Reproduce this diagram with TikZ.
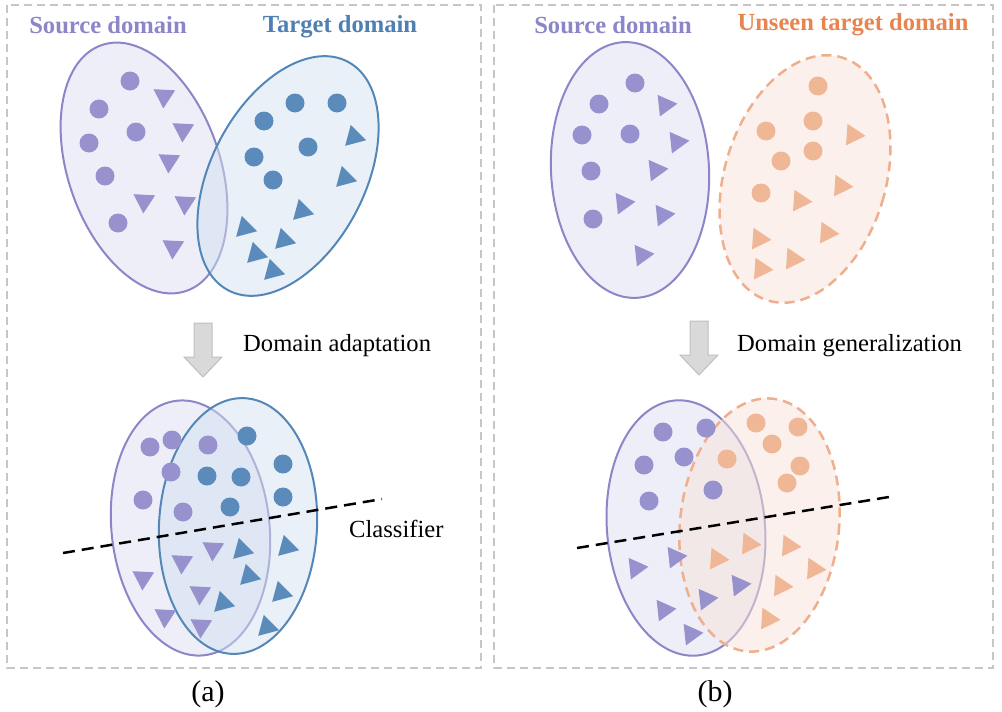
\documentclass[tikz,border=0pt]{standalone}
\usepackage{fontspec}
\setmainfont{Liberation Serif}
\usetikzlibrary{positioning, calc}
\definecolor{srcline}{HTML}{8C85C7}
\definecolor{srcdot}{HTML}{9792CE}
\definecolor{srcfill}{HTML}{DCDDF0}
\definecolor{tgtline}{HTML}{5387B8}
\definecolor{tgtdot}{HTML}{5B8BBB}
\definecolor{tgtfill}{HTML}{D3E1F0}
\definecolor{newline}{HTML}{EFAE8C}
\definecolor{newdot}{HTML}{F0B797}
\definecolor{newfill}{HTML}{F8E2D8}
\definecolor{srctext}{HTML}{8B86C8}
\definecolor{tgttext}{HTML}{4F80B3}
\definecolor{newtext}{HTML}{E8844F}
\newcommand{\dotat}[3]{
    \fill[#1] (#2,#3) circle (9.5pt);
}
\newcommand{\tri}[4]{
    \fill[#1, shift={(#2,#3)}] (#4:12.5) -- (#4+120:12.5) -- (#4+240:12.5) -- cycle;
}
\newcommand{\domain}[6]{
    \draw[#1, shift={(#2,#3)}, rotate=#4] (0,0) ellipse [x radius=#5pt, y radius=#6pt];
}
\newcommand{\blockarrow}[2]{
    \draw[fill=gray!30, draw=gray!50, line width=1pt, shift={(#1,#2)}] (-9,0) -- (9,0) -- (9,34) -- (19,34) -- (0,54) -- (-19,34) -- (-9,34) -- cycle;
}
\begin{document}
\begin{tikzpicture}[x=1pt, y=-1pt,
    panel/.style={draw=gray!45, line width=1.5pt, dash pattern=on 8pt off 5pt},
    srcset/.style={draw=srcline, line width=2pt, fill=srcfill, fill opacity=0.5, draw opacity=1},
    tgtset/.style={draw=tgtline, line width=2pt, fill=tgtfill, fill opacity=0.5, draw opacity=1},
    newset/.style={draw=newline, line width=2.5pt, dash pattern=on 10pt off 6pt, fill=newfill, fill opacity=0.5, draw opacity=1},
    title/.style={font=\fontsize{24.6}{28}\selectfont\bfseries, inner sep=0pt},
    plain/.style={font=\fontsize{24.6}{28}\selectfont, inner sep=0pt},
    caption/.style={font=\fontsize{30}{34}\selectfont, inner sep=0pt},
    classifier/.style={line width=2.5pt, dash pattern=on 12pt off 7pt}]
    \useasboundingbox (0,0) rectangle (1002,712);
    \draw[panel] (7,5) rectangle (481,668);
    \draw[panel] (494,5) rectangle (993,668);
    % (a) domain adaptation
    \node[title, text=srctext] (srcA) at (108,25) {Source domain};
    \node[title, text=tgttext] (tgtA) at (340,27) {Target domain};
    \domain{srcset}{144}{168}{19}{76}{130}
    \domain{tgtset}{288}{176}{-27.5}{77}{129}
    \dotat{srcdot}{130}{81} \dotat{srcdot}{99}{109} \dotat{srcdot}{136}{132}
    \dotat{srcdot}{89}{143} \dotat{srcdot}{105}{176} \dotat{srcdot}{118}{223}
    \tri{srcdot}{164}{96}{93} \tri{srcdot}{183}{130}{93} \tri{srcdot}{169}{161}{93}
    \tri{srcdot}{144}{201}{93} \tri{srcdot}{185}{203}{93} \tri{srcdot}{173}{247}{93}
    \dotat{tgtdot}{295}{103} \dotat{tgtdot}{337}{103} \dotat{tgtdot}{264}{121}
    \dotat{tgtdot}{308}{147} \dotat{tgtdot}{254}{157} \dotat{tgtdot}{273}{180}
    \tri{tgtdot}{354}{137}{-105} \tri{tgtdot}{345}{178}{-105} \tri{tgtdot}{302}{211}{-105}
    \tri{tgtdot}{245}{228}{-105} \tri{tgtdot}{284}{240}{-105} \tri{tgtdot}{256}{254}{-105}
    \tri{tgtdot}{273}{271}{-105}
    \blockarrow{203}{323}
    \node[plain, anchor=west] (adapt) at (243,346) {Domain adaptation};
    \domain{srcset}{190.5}{528}{6}{79}{128}
    \domain{tgtset}{238}{526}{-3}{79}{128}
    \dotat{srcdot}{150}{447} \dotat{srcdot}{172}{440} \dotat{srcdot}{208}{445}
    \dotat{srcdot}{171}{472} \dotat{srcdot}{143}{500} \dotat{srcdot}{183}{512}
    \dotat{tgtdot}{247}{436} \dotat{tgtdot}{283}{464} \dotat{tgtdot}{207}{476}
    \dotat{tgtdot}{241}{477} \dotat{tgtdot}{283}{497} \dotat{tgtdot}{230}{507}
    \tri{srcdot}{213}{549}{93} \tri{srcdot}{182}{562}{93} \tri{srcdot}{143}{578}{93}
    \tri{srcdot}{200}{593}{93} \tri{srcdot}{165}{616}{93} \tri{srcdot}{201}{626}{93}
    \tri{tgtdot}{242}{550}{-105} \tri{tgtdot}{287}{547}{-105} \tri{tgtdot}{249}{576}{-105}
    \tri{tgtdot}{281}{593}{-105} \tri{tgtdot}{223}{603}{-105} \tri{tgtdot}{267}{627}{-105}
    \coordinate (cutA1) at (63,553);
    \coordinate (cutA2) at (382,499);
    \draw[classifier] (cutA1) -- (cutA2);
    \node[plain, anchor=west] (clf) at (349,529) {Classifier};
    \node[caption] (capA) at (208,694) {(a)};
    % (b) domain generalization
    \node[title, text=srctext] (srcB) at (613,25) {Source domain};
    \node[title, text=newtext] (newB) at (853,25) {Unseen target domain};
    \domain{srcset}{630}{170}{3}{79}{128}
    \domain{newset}{805}{179}{-17}{80.5}{127}
    \dotat{srcdot}{635}{83} \dotat{srcdot}{599}{104} \dotat{srcdot}{582}{135}
    \dotat{srcdot}{630}{134} \dotat{srcdot}{591}{171} \dotat{srcdot}{593}{219}
    \tri{srcdot}{665}{105}{-6} \tri{srcdot}{677}{142}{-6} \tri{srcdot}{656}{170}{-6}
    \tri{srcdot}{623}{203}{-6} \tri{srcdot}{663}{215}{-6} \tri{srcdot}{642}{255}{-6}
    \dotat{newdot}{818}{86} \dotat{newdot}{813}{121} \dotat{newdot}{766}{131}
    \dotat{newdot}{813}{151} \dotat{newdot}{781}{161} \dotat{newdot}{761}{193}
    \tri{newdot}{853}{135}{4} \tri{newdot}{841}{186}{4} \tri{newdot}{800}{201}{4}
    \tri{newdot}{827}{233}{4} \tri{newdot}{759}{239}{4} \tri{newdot}{793}{259}{4}
    \tri{newdot}{761}{269}{4}
    \blockarrow{699}{321}
    \node[plain, anchor=west] (gen) at (737,346) {Domain generalization};
    \domain{srcset}{686}{528}{5}{79}{128}
    \domain{newset}{759.5}{525}{-6}{79.5}{127}
    \dotat{srcdot}{663}{432} \dotat{srcdot}{706}{428} \dotat{srcdot}{644}{465}
    \dotat{srcdot}{684}{457} \dotat{srcdot}{649}{501} \dotat{srcdot}{713}{490}
    \dotat{newdot}{756}{423} \dotat{newdot}{798}{427} \dotat{newdot}{772}{444}
    \dotat{newdot}{727}{459} \dotat{newdot}{800}{466} \dotat{newdot}{787}{483}
    \tri{srcdot}{636}{568}{-6} \tri{srcdot}{675}{557}{-6} \tri{srcdot}{739}{585}{-6}
    \tri{srcdot}{706}{599}{-6} \tri{srcdot}{664}{610}{-6} \tri{srcdot}{691}{634}{-6}
    \tri{newdot}{749}{544}{4} \tri{newdot}{789}{546}{4} \tri{newdot}{717}{559}{4}
    \tri{newdot}{814}{569}{4} \tri{newdot}{781}{586}{4} \tri{newdot}{768}{619}{4}
    \coordinate (cutB1) at (577,548);
    \coordinate (cutB2) at (895,496);
    \draw[classifier] (cutB1) -- (cutB2);
    \node[caption] (capB) at (715,694) {(b)};
\end{tikzpicture}
\end{document}
